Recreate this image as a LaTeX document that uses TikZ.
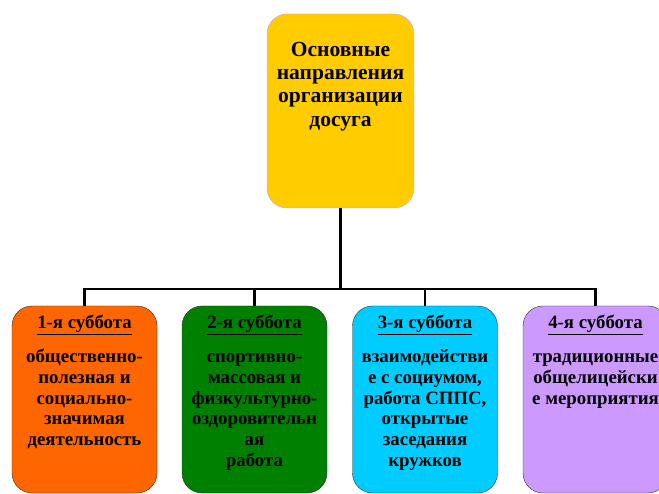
\documentclass[tikz,border=0pt]{standalone}
\usepackage{fontspec}
\setmainfont{Liberation Serif}
\usetikzlibrary{positioning}
\definecolor{goldbox}{RGB}{255,204,0}
\definecolor{lilacline}{RGB}{204,153,255}
\definecolor{orangebox}{RGB}{255,102,0}
\definecolor{greenbox}{RGB}{0,128,0}
\definecolor{cyanbox}{RGB}{0,204,255}
\definecolor{lilacbox}{RGB}{204,153,255}

\begin{document}
\begin{tikzpicture}[x=1pt, y=-1pt,
    head/.style={
        rectangle, rounded corners=20pt, draw=lilacline, thin,
        fill=goldbox, minimum width=147pt, minimum height=194pt
    },
    sat/.style={
        rectangle, rounded corners=20pt, draw=black!80, thin,
        minimum width=145pt, minimum height=187pt
    },
    txt/.style={align=center,
        font=\fontsize{18.8}{20.8}\selectfont\bfseries},
    link/.style={line width=2.2pt, black}
]
\useasboundingbox (0,0) rectangle (659,494);

\node[head] (main) at (340.5,111) {};
\node[below=25pt of main.north, align=center,
    font=\fontsize{21.5}{23.2}\selectfont\bfseries] (maintxt)
    {Основные\\направления\\организации\\досуга};

% saturdays
\node[sat, fill=orangebox] (s1) at (84.5,399.5) {};
\node[sat, fill=greenbox]  (s2) at (254.5,399.5) {};
\node[sat, fill=cyanbox]   (s3) at (425,399.5) {};
\node[sat, fill=lilacbox]  (s4) at (595.5,399.5) {};

\node[txt, below=6pt of s1.north] (t1) {\underline{1-я суббота}\\[13pt]
    общественно-\\полезная и\\социально-\\значимая\\деятельность};
\node[txt, below=6pt of s2.north] (t2) {\underline{2-я суббота}\\[13pt]
    спортивно-\\массовая и\\физкультурно-\\оздоровительн\\ая\\работа};
\node[txt, below=6pt of s3.north] (t3) {\underline{3-я суббота}\\[13pt]
    взаимодействи\\е с социумом,\\работа СППС,\\открытые\\заседания\\кружков};
\node[txt, below=6pt of s4.north] (t4) {\underline{4-я суббота}\\[13pt]
    традиционные\\общелицейски\\е мероприятия};

\coordinate (hub) at (340.5,289);
\draw[link] (main) -- (hub);
\draw[link] (s1.north) -- (s1.north |- hub) -| (s4.north);
\draw[link] (s2.north) -- (s2.north |- hub);
\draw[link] (s3.north) -- (s3.north |- hub);
\end{tikzpicture}
\end{document}
